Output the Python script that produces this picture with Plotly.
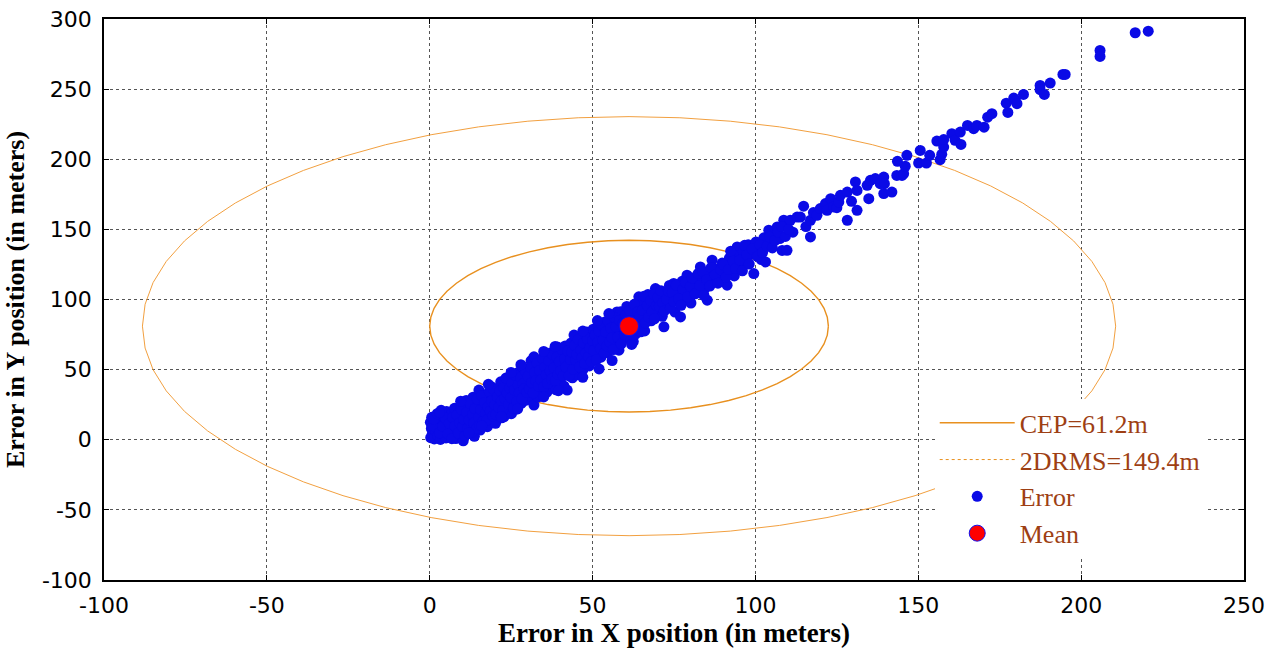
import numpy as np
import plotly.graph_objects as go

# Position errors (metres): X and Y error of each fix
err_x = [
    0.3, 0.8, 0.5, 0.2, 0.6, 1.4, 1.8, 2.1, 2.5, 2.9, 3.3, 3.6, 3.9, 4.3, 4.6, 5.0, 5.2, 5.5, 5.9, 6.3,
    6.6, 6.9, 7.3, 7.6, 8.0, 8.2, 8.6, 9.0, 9.3, 9.6, 9.9, 10.3, 10.6, 10.9, 11.2,
    11.5, 11.9, 12.3, 12.6, 13.0, 13.3, 13.7, 14.1, 14.4, 14.8, 15.1, 15.5, 15.8, 16.2, 16.5, 16.9,
    17.3, 17.7, 18.0, 18.4, 18.8, 19.1, 19.5, 19.9, 20.2,
    20.6, 21.0, 21.4, 21.8, 22.1, 22.5, 22.8, 23.2, 23.6, 24.0, 24.3, 24.7, 25.1, 25.5, 25.8, 26.2,
    26.6, 27.0, 27.3, 27.7, 28.1, 28.5, 28.8, 29.2, 29.6,
    30.0, 30.4, 30.8, 31.1, 31.5, 32.0, 32.0, 32.4, 32.8, 33.2, 33.6, 34.0, 34.4, 34.8, 35.2, 35.6,
    36.0, 36.4, 36.8, 37.2, 37.6, 38.0, 38.4, 38.8, 39.2, 39.6,
    40.0, 40.4, 40.8, 41.2, 41.6, 42.0, 42.2, 42.6, 43.0, 43.4, 43.8, 44.3, 44.6, 45.0, 45.4, 45.8,
    46.2, 46.6, 47.0, 47.4, 47.8, 48.2, 48.6, 49.0, 49.4, 49.8,
    50.2, 50.6, 51.0, 51.4, 51.8, 52.2, 52.6, 53.0, 53.4, 53.8, 54.2, 54.6, 55.0, 55.4, 55.8, 56.2,
    56.6, 57.0, 57.5, 57.9, 58.1, 58.6, 59.0, 59.5,
    60.0, 60.5, 61.0, 61.5, 62.0, 62.5, 63.0, 63.5, 64.2, 64.6, 65.0, 65.6, 66.0, 66.5, 67.0, 67.5,
    68.0, 68.6, 69.3, 69.8, 70.2,
    70.8, 71.4, 71.9, 72.4, 73.0, 73.6, 74.2, 74.9, 75.3, 76.0, 77.0, 77.5, 78.0, 79.0, 79.5, 80.2,
    81.0, 82.0, 83.1, 83.6, 84.5, 85.2, 85.8, 86.7, 87.2, 88.0, 89.0, 89.8,
    90.6, 91.3, 92.0, 92.8, 93.5, 94.4, 94.9, 95.5, 96.3, 97.0, 97.8, 98.5, 99.5, 100.2, 101.0, 101.8,
    102.6, 103.1, 104.1, 104.8, 105.6, 106.7, 107.5, 108.2, 108.7, 109.7, 110.7,
    111.5, 112.8, 113.8, 114.8, 115.5, 116.9, 116.9, 117.8, 118.9, 119.9, 121.5, 122.0, 123.1, 124.0,
    125.0, 125.6, 126.1, 128.2, 128.2, 129.5, 130.7, 131.2, 131.2,
    134.3, 134.8, 135.3, 136.8, 138.3, 139.4, 139.4, 139.6, 141.9, 143.4, 145.0, 145.5, 143.6, 146.0,
    146.5, 150.1, 150.6, 152.5, 153.5,
    155.7, 156.7, 157.2, 157.8, 157.8, 160.3, 161.3, 162.9, 163.1, 165.1, 167.0, 168.0, 170.2, 171.3,
    172.6, 177.0, 177.5, 179.3, 179.8, 180.3, 182.3, 187.4, 187.4, 188.7, 190.5, 194.4, 195.1, 205.8,
    205.8, 216.6, 220.6,
    # second pass through the dense part of the cloud
    1.0, 1.2, 2.3, 3.0, 3.5, 4.0, 4.8, 5.6, 6.0, 6.8, 7.0, 7.8, 8.4, 8.8, 9.2, 9.7, 10.1, 10.5, 10.8,
    11.3, 11.7, 12.1, 12.4, 12.9, 13.2, 13.5, 13.9, 14.3, 14.6, 15.0, 15.3, 15.7, 16.0, 16.4, 16.8,
    17.1, 17.5, 17.9, 18.3, 18.6, 19.0, 19.4, 19.7, 20.0,
    20.4, 20.8, 21.2, 21.6, 22.0, 22.4, 22.7, 23.0, 23.4, 23.8, 24.2, 24.6, 25.0, 25.3, 25.7, 26.0,
    26.4, 26.8, 27.2, 27.5, 27.9, 28.3, 28.7, 29.0, 29.4, 29.8,
    30.2, 30.6, 31.0, 31.3, 31.8, 32.2, 32.6, 33.0, 33.4, 33.8, 34.2, 34.6, 35.0, 35.4, 35.8, 36.2,
    36.6, 37.0, 37.4, 37.8, 38.2, 38.6, 39.0, 39.4, 39.8,
    40.2, 40.6, 41.0, 41.4, 41.8, 42.4, 42.8, 43.2, 43.6, 44.0, 44.5, 44.8, 45.2, 45.6, 46.0, 46.4,
    46.8, 47.2, 47.6, 48.0, 48.4, 48.8, 49.2, 49.6, 50.0,
    50.4, 50.8, 51.2, 51.6, 52.0, 52.4, 52.8, 53.2, 53.6, 54.0, 54.4, 54.8, 55.2, 55.6, 56.0, 56.4,
    56.8, 57.2, 57.7, 58.3, 58.8, 59.2, 59.8,
    60.2, 60.8, 61.3, 61.8, 62.2, 62.8, 63.2, 63.8, 64.0, 64.4, 64.8, 65.3, 65.8, 66.2, 66.8, 67.2,
    67.8, 68.3, 68.8, 69.0, 69.6, 70.0,
    70.5, 71.0, 71.6, 72.0, 72.7, 73.3, 73.9, 74.5, 75.0, 75.7, 76.4, 77.2, 77.8, 78.5, 79.2, 80.0,
    80.6, 81.5, 82.4, 83.0, 83.9, 84.2, 85.0, 86.0, 86.4, 87.6, 88.5, 89.4,
    90.2, 91.0, 91.7, 92.4, 93.2, 93.9, 95.2, 96.0, 96.7, 97.4, 98.1, 99.0, 100.6, 101.4, 102.2, 103.6,
    104.4, 105.2, 106.0, 107.0, 108.0, 109.2, 110.2,
    # outer edges of the cloud
    3.0, 9.5, 18.0, 25.0, 28.0, 35.0, 38.5, 47.0, 51.5, 55.0,
    12.0, 16.0, 22.0, 27.0, 35.0, 39.5, 47.0, 52.0, 56.0, 62.0,
]
err_y = [
    1.5, 4.2, 8.1, 12.4, 16.0, 0.6, 6.3, 10.5, 2.8, 13.9, 0.2, 7.4, 17.2, 4.1, 11.8, 1.3, 20.1, 8.6, 14.7, 3.0,
    18.3, 10.9, 5.7, 22.4, 0.9, 14.0, 8.2, 19.6, 3.6, 25.1, 12.3, -0.8, 7.0, 17.9, 28.0,
    11.0, 4.4, 21.6, 15.2, 8.9, 30.3, 2.5, 24.0, 12.8, 19.4, 35.4, 6.9, 27.6, 15.9, 22.3, 10.2,
    32.1, 9.3, 18.8, 26.2, 38.0, 14.4, 22.9, 30.6, 11.7,
    36.5, 19.2, 27.1, 41.3, 15.6, 32.4, 16.4, 24.3, 38.7, 20.9, 29.8, 44.5, 18.6, 34.0, 26.3, 41.9,
    22.0, 30.7, 48.2, 37.6, 25.9, 52.0, 33.5, 43.4, 28.2,
    39.5, 49.6, 31.1, 56.3, 44.8, 24.7, 59.1, 37.0, 50.9, 30.4, 44.0, 55.2, 35.7, 48.6, 40.3, 59.8,
    33.9, 52.7, 45.1, 62.0, 39.2, 55.9, 48.0, 35.6, 66.2, 51.4,
    43.7, 60.5, 53.2, 38.4, 66.9, 47.6, 35.4, 58.3, 51.0, 69.0, 44.2, 74.6, 61.8, 53.7, 46.3, 68.4,
    57.1, 72.2, 49.8, 63.5, 56.0, 76.9, 66.7, 52.6, 71.3, 60.2,
    78.8, 57.4, 68.9, 63.0, 81.5, 72.6, 58.9, 77.3, 66.4, 84.0, 70.9, 62.2, 80.1, 74.5, 88.0, 67.8,
    83.2, 76.0, 91.1, 70.2, 63.9, 91.2, 79.4, 86.2,
    72.3, 95.0, 83.6, 76.8, 90.4, 70.0, 86.7, 79.1, 101.9, 93.0, 84.3, 97.6, 77.6, 89.2, 103.5, 92.6,
    84.8, 98.8, 107.8, 106.6, 91.0,
    100.4, 88.0, 80.5, 104.2, 95.3, 110.0, 99.6, 111.4, 91.0, 105.7, 87.6, 113.0, 101.0, 117.3, 107.2, 97.5,
    112.0, 105.0, 123.2, 114.8, 108.0, 99.5, 119.0, 128.0, 112.5, 121.7, 116.0, 126.0,
    119.5, 110.2, 129.5, 123.0, 116.8, 137.5, 131.0, 124.6, 134.0, 127.5, 139.0, 132.0, 118.5, 141.0, 135.5, 128.5,
    144.0, 126.8, 149.4, 140.0, 146.5, 151.7, 143.5, 135.0, 156.5, 135.1, 156.5,
    148.0, 158.8, 158.8, 166.5, 152.0, 156.5, 144.6, 162.0, 160.0, 164.8, 168.4, 163.6, 171.9, 166.0,
    165.5, 169.5, 174.3, 176.6, 156.5, 170.0, 183.8, 177.8, 163.6,
    181.4, 171.9, 185.0, 186.2, 182.6, 187.3, 175.5, 182.6, 176.6, 188.5, 188.5, 189.7, 198.5, 195.0,
    202.8, 197.3, 206.3, 197.3, 202.8,
    213.0, 199.7, 203.5, 208.7, 214.0, 218.2, 213.5, 219.4, 210.6, 224.1, 221.8, 224.1, 222.9, 230.0,
    232.5, 240.0, 233.4, 243.6, 242.0, 239.6, 246.2, 252.6, 249.6, 246.2, 254.3, 260.5, 260.5, 277.6,
    273.3, 290.2, 291.3,
    # second pass through the dense part of the cloud
    10.0, 14.8, 18.6, 5.0, 21.0, 9.5, 15.5, 4.2, 11.6, 0.8, 15.9, 9.7, 17.5, 4.8, 12.0, 21.7, 9.4, 14.5, 2.6,
    19.5, 8.1, 14.0, 26.0, 5.5, 18.0, 11.9, 22.2, 8.0, 29.0, 16.1, 10.4, 21.4, 31.5, 13.2, 26.4,
    18.7, 14.0, 23.5, 34.3, 20.4, 27.8, 17.1, 35.9, 24.8,
    18.0, 30.6, 23.0, 34.8, 27.9, 20.8, 37.1, 29.6, 44.0, 33.2, 25.4, 36.9, 30.0, 40.4, 22.6, 35.5,
    45.8, 27.3, 38.9, 33.6, 44.6, 29.4, 40.0, 36.4, 48.5, 33.8,
    45.2, 36.2, 51.6, 40.7, 33.4, 47.9, 42.2, 54.6, 38.3, 49.4, 42.7, 58.0, 37.7, 51.9, 46.2, 40.1,
    56.4, 48.9, 43.3, 60.6, 51.4, 42.2, 58.9, 46.6, 55.8,
    49.2, 64.3, 45.5, 57.6, 51.8, 63.2, 45.6, 57.1, 62.7, 50.3, 67.3, 56.8, 60.9, 71.5, 51.9, 63.9,
    58.6, 69.0, 54.4, 62.0, 71.8, 59.2, 65.6, 55.7, 70.7,
    63.7, 74.5, 57.0, 69.5, 77.6, 65.2, 81.9, 70.9, 61.9, 76.8, 67.0, 84.5, 69.8, 79.5, 72.8, 64.3,
    87.2, 80.6, 73.2, 85.1, 68.4, 83.0, 75.2,
    88.8, 79.7, 92.3, 70.8, 84.6, 96.6, 75.4, 91.0, 82.5, 87.8, 77.0, 92.4, 102.4, 83.4, 95.8, 87.5,
    99.5, 91.3, 103.7, 86.2, 95.8, 101.6,
    95.1, 106.3, 97.7, 91.8, 100.2, 106.0, 93.8, 104.8, 98.5, 110.3, 100.6, 95.9, 107.5, 112.2, 101.8, 109.3,
    115.4, 104.1, 118.5, 110.0, 120.0, 102.9, 114.0, 109.6, 122.8, 117.5, 111.6, 121.2,
    124.7, 116.0, 121.4, 134.4, 127.3, 122.1, 128.0, 120.5, 138.6, 131.8, 125.3, 136.0, 130.8, 139.2, 133.5, 138.0,
    144.6, 136.8, 142.2, 148.0, 152.0, 145.0, 150.0,
    # outer edges of the cloud
    19.5, 27.5, 39.5, 48.0, 53.5, 63.0, 66.5, 77.5, 85.0, 90.0,
    5.0, 10.0, 16.5, 22.0, 30.5, 35.0, 44.5, 50.5, 56.5, 68.0,
]

# Summary statistics
mean_x = 61.2
mean_y = 81.0
cep = 61.2
drms2 = 149.4

x_ticks = [-100, -50, 0, 50, 100, 150, 200, 250]
x_tick_labels = ["-100", "-50", "0", "50", "100", "150", "200", "250"]
y_ticks = [-100, -50, 0, 50, 100, 150, 200, 250, 300]
y_tick_labels = ["-100", "-50", "0", "50", "100", "150", "200", "250", "300"]

# Circles of radius CEP and 2DRMS around the mean
theta = np.linspace(0, 2 * np.pi, 61)
cep_x = mean_x + cep * np.cos(theta)
cep_y = mean_y + cep * np.sin(theta)
drms_x = mean_x + drms2 * np.cos(theta)
drms_y = mean_y + drms2 * np.sin(theta)

fig = go.Figure()
fig.add_trace(go.Scatter(x=cep_x, y=cep_y, mode="lines", name="CEP=61.2m",
                         line=dict(color="#E8901F", width=1.4), legendgroup="a"))
fig.add_trace(go.Scatter(x=drms_x, y=drms_y, mode="lines", name="2DRMS=149.4m",
                         line=dict(color="#F2A040", width=1), showlegend=False))
fig.add_trace(go.Scatter(x=[None], y=[None], mode="lines", name="2DRMS=149.4m",
                         line=dict(color="#E8901F", width=1, dash="dot"), legendgroup="b"))
fig.add_trace(go.Scatter(x=err_x, y=err_y, mode="markers", name="Error",
                         marker=dict(color="#0A0AE6", size=11), legendgroup="c"))
fig.add_trace(go.Scatter(x=[mean_x], y=[mean_y], mode="markers", name="Mean",
                         marker=dict(color="#FF0000", size=19, line=dict(color="#1010F0", width=1)),
                         legendgroup="d"))

axis_common = dict(
    showline=True, linecolor="black", linewidth=1.5, mirror="ticks",
    ticks="inside", ticklen=5, tickcolor="black", tickwidth=1,
    showgrid=True, gridcolor="#555555", gridwidth=1, griddash="dot",
    zeroline=False, automargin=False,
    tickfont=dict(family="DejaVu Sans", size=22, color="black"),
)

fig.update_xaxes(range=[-100, 250], tickvals=x_ticks, ticktext=x_tick_labels, ticklabelstandoff=5,
                 title=dict(text="<b>Error in X position (in meters)</b>",
                            font=dict(family="Liberation Serif, Times New Roman", size=27, color="black"),
                            standoff=4),
                 **axis_common)
fig.update_yaxes(range=[-100, 300], tickvals=y_ticks, ticktext=y_tick_labels, ticklabelstandoff=6,
                 title=dict(text="<b>Error in Y position (in meters)</b>",
                            font=dict(family="Liberation Serif, Times New Roman", size=26, color="black"),
                            standoff=10),
                 **axis_common)

fig.update_layout(
    width=1277, height=648,
    margin=dict(l=103.5, r=32.5, t=18.5, b=68),
    plot_bgcolor="white", paper_bgcolor="white",
    showlegend=True,
    legend=dict(
        x=0.7287, y=0.322, xanchor="left", yanchor="top",
        bgcolor="white", borderwidth=0,
        font=dict(family="Liberation Serif, Times New Roman", size=26, color="#9E3F14"),
        itemwidth=75, tracegroupgap=0,
    ),
)

fig.write_html("out.html")
